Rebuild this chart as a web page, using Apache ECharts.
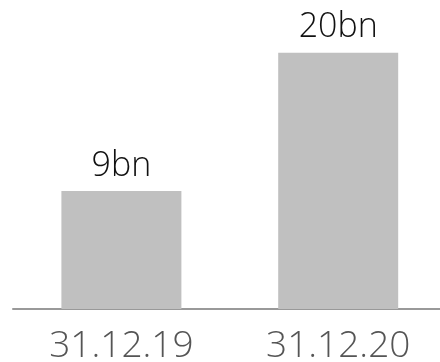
<!DOCTYPE html>
<html><head><meta charset="utf-8">
<script src="https://cdn.jsdelivr.net/npm/echarts@6/dist/echarts.min.js"></script>
<style>html,body{margin:0;padding:0;background:#fff}#c{width:440px;height:362px}</style>
</head><body><div id="c"></div>
<script>
const categories = ['31.12.19', '31.12.20'];
const values = [9.2, 20];
const valueLabels = ['9bn', '20bn'];

const chart = echarts.init(document.getElementById('c'), null, {renderer: 'canvas'});
chart.setOption({
  animation: false,
  grid: {left: 13, width: 433.6, top: 52.7, bottom: 53, containLabel: false, outerBoundsMode: 'none'},
  xAxis: {
    type: 'category', data: categories,
    axisLine: {lineStyle: {color: '#999', width: 2}},
    axisTick: {show: false},
    axisLabel: {color: '#555', fontFamily: 'Open Sans', fontWeight: 300, fontSize: 37, margin: 19}
  },
  yAxis: {type: 'value', min: 0, max: 20, show: false, splitLine: {show: false}},
  series: [{
    type: 'bar', data: values, barWidth: 120,
    itemStyle: {color: '#c0c0c0'},
    label: {
      show: true, position: 'top', distance: 8,
      color: '#111', fontFamily: 'Open Sans', fontWeight: 300, fontSize: 34,
      formatter: p => valueLabels[p.dataIndex]
    }
  }]
});
</script></body></html>
